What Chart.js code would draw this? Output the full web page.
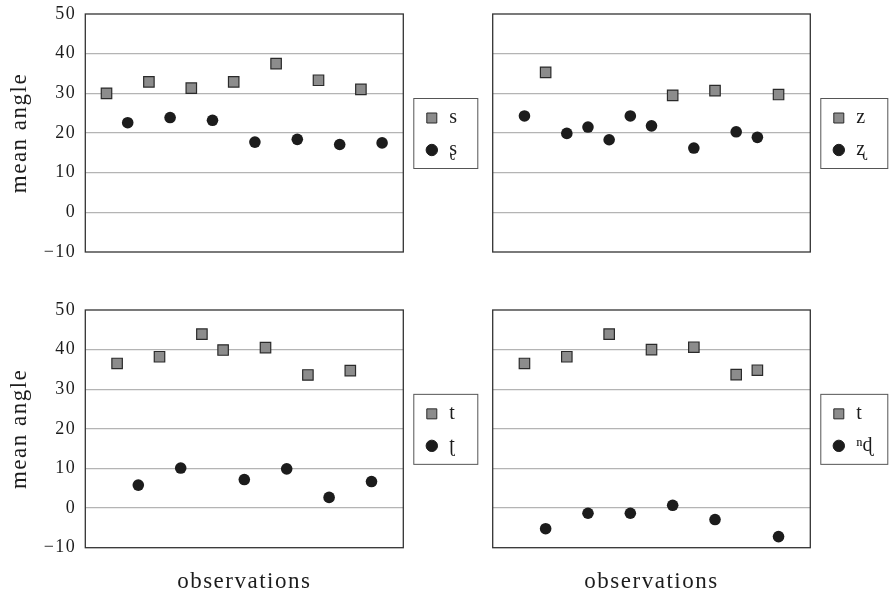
<!DOCTYPE html>
<html>
<head>
<meta charset="utf-8">
<script src="https://cdn.jsdelivr.net/npm/chart.js@4/dist/chart.umd.min.js"></script>
<style>
  html, body { margin: 0; padding: 0; background: #fff; }
  #wrap { position: relative; width: 889px; height: 597px; overflow: hidden; }
  canvas { position: absolute; }
</style>
</head>
<body>
<div id="wrap">
  <canvas id="c1" width="480" height="280" style="left:0;top:0"></canvas>
  <canvas id="c2" width="409" height="280" style="left:480px;top:0"></canvas>
  <canvas id="c3" width="480" height="317" style="left:0;top:280px"></canvas>
  <canvas id="c4" width="409" height="317" style="left:480px;top:280px"></canvas>
</div>
<script>
const yTicks = [-10, 0, 10, 20, 30, 40, 50];
const yTitle = "mean angle";
const xTitle = "observations";

// s vs ʂ (14 observations)
const sObs = [1, 3, 5, 7, 9, 11, 13];
const sAngle = [30.0, 32.9, 31.3, 32.9, 37.5, 33.3, 31.0];
const sRetroObs = [2, 4, 6, 8, 10, 12, 14];
const sRetroAngle = [22.6, 23.9, 23.2, 17.7, 18.4, 17.1, 17.5];

// z vs ʐ (13 observations)
const zObs = [2, 8, 10, 13];
const zAngle = [35.3, 29.5, 30.7, 29.7];
const zRetroObs = [1, 3, 4, 5, 6, 7, 9, 11, 12];
const zRetroAngle = [24.3, 19.9, 21.5, 18.3, 24.3, 21.8, 16.2, 20.3, 18.9];

// t vs ʈ
const tObs = [1, 3, 5, 6, 8, 10, 12];
const tAngle = [36.5, 38.2, 43.9, 39.9, 40.5, 33.6, 34.7];
const tRetroObs = [2, 4, 7, 9, 11, 13];
const tRetroAngle = [5.8, 10.1, 7.2, 9.9, 2.7, 6.7];

// t vs ⁿɖ
const t2Obs = [1, 3, 5, 7, 9, 11, 12];
const t2Angle = [36.5, 38.2, 43.9, 40.0, 40.6, 33.7, 34.8];
const ndObs = [2, 4, 6, 8, 10, 13];
const ndAngle = [-5.2, -1.3, -1.3, 0.7, -2.9, -7.2];

const serif = "'Liberation Serif', 'DejaVu Serif', serif";
const ink = "#1c1c1c";

// plot frame + boxed legend beside the plot
const boxLegend = {
  id: "boxLegend",
  beforeDraw(chart) {
    // the book face is wider than Times, spread the letters a bit
    chart.ctx.letterSpacing = "1.5px";
  },
  afterDraw(chart, args, opts) {
    const { ctx, chartArea: a } = chart;
    ctx.letterSpacing = "0px";
    ctx.save();
    ctx.strokeStyle = "#333";
    ctx.lineWidth = 1.3;
    ctx.strokeRect(a.left, a.top, a.right - a.left, a.bottom - a.top);

    const mid = (a.top + a.bottom) / 2;
    const x0 = a.right + 10;
    ctx.strokeStyle = "#555";
    ctx.lineWidth = 1;
    ctx.strokeRect(x0 + 0.5, mid - 35 + 0.5, opts.width, 70);

    chart.data.datasets.forEach((ds, i) => {
      const y = mid + (i === 0 ? -15 : 17);
      const mx = x0 + 18.5;
      ctx.fillStyle = ds.backgroundColor;
      ctx.strokeStyle = ds.borderColor;
      ctx.lineWidth = 1;
      ctx.beginPath();
      if (ds.pointStyle === "rect") {
        ctx.rect(mx - 5, y - 5, 10, 10);
      } else {
        ctx.arc(mx, y, 5.7, 0, Math.PI * 2);
      }
      ctx.fill();
      ctx.stroke();
      ctx.fillStyle = ink;
      ctx.font = "20px " + serif;
      ctx.textBaseline = "middle";
      ctx.textAlign = "left";
      ctx.fillText(ds.label, x0 + 36, y);
    });
    ctx.restore();
  },
};

function squares(label, obs, vals) {
  return {
    label,
    data: obs.map((x, i) => ({ x, y: vals[i] })),
    pointStyle: "rect",
    pointRadius: 7.4,
    backgroundColor: "#8c8c8c",
    borderColor: "#2a2a2a",
    borderWidth: 1.2,
  };
}

function dots(label, obs, vals) {
  return {
    label,
    data: obs.map((x, i) => ({ x, y: vals[i] })),
    pointStyle: "circle",
    pointRadius: 5.8,
    backgroundColor: ink,
    borderColor: ink,
    borderWidth: 0,
  };
}

function makePanel(id, datasets, p) {
  const w = document.getElementById(id).width;
  new Chart(document.getElementById(id), {
    type: "scatter",
    data: { datasets },
    plugins: [boxLegend],
    options: {
      responsive: false,
      animation: false,
      devicePixelRatio: 1,
      layout: {
        padding: {
          left: p.left ? 0 : 12.7,
          right: w - (p.left ? 403.3 : 330.3),
          top: p.bottom ? 30 : 14,
          bottom: p.bottom ? 0 : 28,
        },
      },
      plugins: {
        legend: { display: false },
        tooltip: { enabled: false },
        boxLegend: { width: p.left ? 64 : 67 },
      },
      elements: { point: { hoverRadius: 6 } },
      scales: {
        x: {
          type: "linear",
          min: p.xMin,
          max: p.xMax,
          display: p.bottom,
          grid: { display: false },
          border: { display: false },
          ticks: { display: false },
          title: {
            display: p.bottom,
            text: xTitle,
            color: ink,
            font: { family: serif, size: 23 },
            padding: { top: 0, bottom: 1 },
          },
          afterFit: (s) => { s.height = p.bottom ? 49.3 : 0; },
        },
        y: {
          min: -10,
          max: 50,
          afterBuildTicks: (s) => { s.ticks = yTicks.map((v) => ({ value: v })); },
          grid: {
            color: (c) => (c.tick && (c.tick.value === -10 || c.tick.value === 50)) ? "rgba(0,0,0,0)" : "#b4b4b4",
            lineWidth: 1.2,
            drawTicks: false,
          },
          border: { display: false },
          ticks: {
            display: p.left,
            padding: 9,
            color: ink,
            font: { family: serif, size: 18 },
            callback: (v) => String(v).replace("-", "\u2212"),
          },
          title: {
            display: p.left,
            text: yTitle,
            color: ink,
            font: { family: serif, size: 23 },
            padding: { top: 6, bottom: 0 },
          },
          afterFit: (s) => {
            s.width = p.left ? 85.3 : 0;
            s.paddingTop = 0;
            s.paddingBottom = 0;
          },
        },
      },
    },
  });
}

makePanel("c1", [squares("s", sObs, sAngle), dots("ʂ", sRetroObs, sRetroAngle)],
  { left: true, bottom: false, xMin: 0, xMax: 15 });
makePanel("c2", [squares("z", zObs, zAngle), dots("ʐ", zRetroObs, zRetroAngle)],
  { left: false, bottom: false, xMin: -0.5, xMax: 14.5 });
makePanel("c3", [squares("t", tObs, tAngle), dots("ʈ", tRetroObs, tRetroAngle)],
  { left: true, bottom: true, xMin: -0.5, xMax: 14.5 });
makePanel("c4", [squares("t", t2Obs, t2Angle), dots("ⁿɖ", ndObs, ndAngle)],
  { left: false, bottom: true, xMin: -0.5, xMax: 14.5 });
</script>
</body>
</html>
